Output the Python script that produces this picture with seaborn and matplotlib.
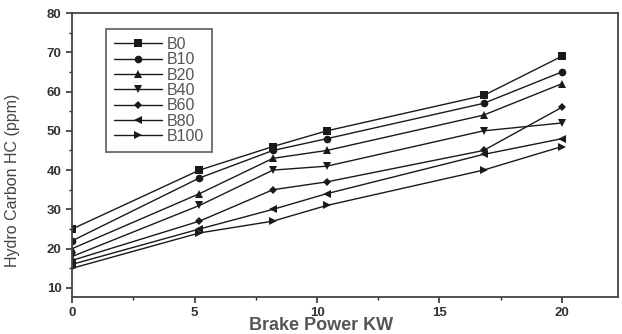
import pandas as pd
import matplotlib.pyplot as plt
import seaborn as sns
from matplotlib.ticker import MultipleLocator

sns.set_theme(style="ticks")
plt.rcParams['font.family'] = ['Liberation Sans', 'DejaVu Sans']

# --- datos ---
potencia = [0, 5.2, 8.2, 10.4, 16.8, 20]
mezclas = ["B0", "B10", "B20", "B40", "B60", "B80", "B100"]
hc_b0 = [25, 40, 46, 50, 59, 69]
hc_b10 = [22, 38, 45, 48, 57, 65]
hc_b20 = [20, 34, 43, 45, 54, 62]
hc_b40 = [18, 31, 40, 41, 50, 52]
hc_b60 = [17, 27, 35, 37, 45, 56]
hc_b80 = [16, 25, 30, 34, 44, 48]
hc_b100 = [15, 24, 27, 31, 40, 46]

series = [hc_b0, hc_b10, hc_b20, hc_b40, hc_b60, hc_b80, hc_b100]
filas = []
for nombre, valores in zip(mezclas, series):
    for x, y in zip(potencia, valores):
        filas.append({"Potencia": x, "HC": y, "Mezcla": nombre})
df = pd.DataFrame(filas)

marcadores = {"B0": "s", "B10": "o", "B20": "^", "B40": "v",
              "B60": "D", "B80": "<", "B100": ">"}
paleta = {m: "#1a1a1a" for m in mezclas}

fig = plt.figure(figsize=(6.22, 3.34), dpi=100)
fig.patch.set_facecolor('white')
ax = fig.add_axes([0.116, 0.111, 0.878, 0.85])

sns.lineplot(data=df, x="Potencia", y="HC", hue="Mezcla", style="Mezcla",
             markers=marcadores, dashes=False, palette=paleta,
             hue_order=mezclas, style_order=mezclas,
             linewidth=1.0, markersize=5.5, markeredgewidth=0, ax=ax)
# rombo un poco mas chico
for ln in ax.lines:
    if ln.get_marker() == 'D':
        ln.set_markersize(4.5)

ax.set_xlim(0, 22.3)
ax.set_ylim(7.7, 80)
ax.xaxis.set_major_locator(MultipleLocator(5))
ax.xaxis.set_minor_locator(MultipleLocator(2.5))
ax.yaxis.set_major_locator(MultipleLocator(10))
ax.yaxis.set_minor_locator(MultipleLocator(5))
ax.tick_params(which='major', direction='out', length=4, width=1.2,
               labelsize=9.5, colors='#333333')
ax.tick_params(axis='x', which='major', pad=3)
ax.tick_params(which='minor', direction='out', length=2, width=1.0)
for lab in ax.get_xticklabels() + ax.get_yticklabels():
    lab.set_fontweight('bold')
for s in ax.spines.values():
    s.set_visible(True)
    s.set_color('#444444')
    s.set_linewidth(1.3)

ax.set_xlabel("Brake Power KW", fontsize=13, fontweight='bold',
              color='#555555')
ax.xaxis.set_label_coords(0.455, -0.072)
ax.set_ylabel("Hydro Carbon HC (ppm)", fontsize=11.5, color='#444444')
ax.yaxis.set_label_coords(-0.095, 0.41)

leg = ax.legend(loc='upper left', bbox_to_anchor=(0.062, 0.944), frameon=True,
                fancybox=False, edgecolor='#444444', fontsize=11.5,
                handlelength=3.0, labelspacing=0.02, borderpad=0.5,
                handletextpad=0.3, borderaxespad=0)
leg.get_frame().set_linewidth(1.3)
for t in leg.get_texts():
    t.set_color('#555555')

plt.savefig("out.png", dpi=100, facecolor='white')
plt.close()
